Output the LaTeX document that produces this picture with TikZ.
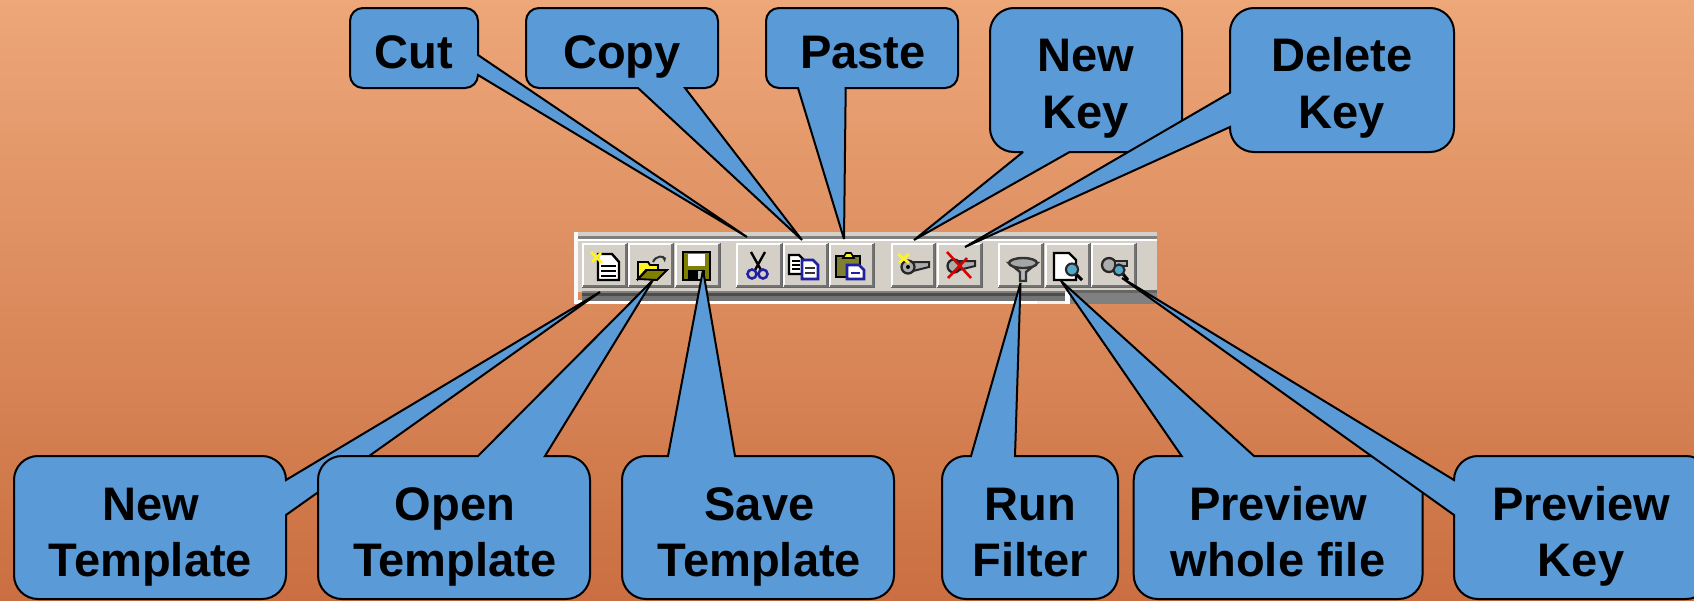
\documentclass[tikz,border=0pt]{standalone}
\usepackage{fontspec}
\usetikzlibrary{arrows.meta}
\setmainfont{Liberation Sans}
\definecolor{calloutblue}{HTML}{5A9AD6}
\definecolor{bgtop}{HTML}{EDA779}
\definecolor{bgbot}{HTML}{CA6F41}
\definecolor{face}{HTML}{D4D0C8}
\definecolor{olive}{HTML}{808000}
\definecolor{navyblue}{HTML}{2020A0}
\tikzset{
  calloutbox/.style={fill=calloutblue,draw=black,line width=1.5pt,line join=miter,miter limit=3},
  lab/.style={align=center,font=\bfseries\fontsize{35.3}{42.5}\selectfont,inner sep=0pt,anchor=base,text=black},
  docshape/.style={fill=white,draw=black,line width=1.8pt},
  bluedoc/.style={fill=white,draw=navyblue,line width=1.9pt},
  keyshape/.style={draw=black!85,line width=1.7pt,fill=gray!65},
  lens/.style={draw=black!85,line width=1.6pt,fill=cyan!60!gray}
}
\newcommand{\tbbtn}[2]{%
  \fill[face] (#1,243) rectangle (#2,287);
  \draw[white,line width=1.3pt] (#1+.8,287) -- (#1+.8,243.8) -- (#2-1,243.8);
  \draw[gray!90!black,line width=1.8pt] (#1+1,285.8) -- (#2-1,285.8) -- (#2-1,244);
  \draw[black!60,line width=.8pt] (#1,287.4) -- (#2+.4,287.4) -- (#2+.4,243);
}
% x0 y0 x1 y1 radius | top-edge, right-edge, bottom-edge, left-edge wedge fragments
\newcommand{\calloutshape}[9]{%
  \draw[calloutbox] (#1+#5,#2) #6 -- (#3-#5,#2) arc[start angle=-90,end angle=0,radius=#5]
    #7 -- (#3,#4-#5) arc[start angle=0,end angle=90,radius=#5]
    #8 -- (#1+#5,#4) arc[start angle=90,end angle=180,radius=#5]
    #9 -- (#1,#2+#5) arc[start angle=180,end angle=270,radius=#5] -- cycle;
}
\begin{document}
\begin{tikzpicture}[x=0.75pt,y=-0.75pt]
\useasboundingbox (0,0) rectangle (1694,600);
\clip (0,0) rectangle (1694,600);
\shade[top color=bgtop,bottom color=bgbot] (0,0) rectangle (1694,600);

% toolbar
\fill[face] (574,232) rectangle (1157,292);
\fill[white!90!face] (574,232) rectangle (578,304);
\fill[gray] (578,236) rectangle (1157,238.5);
\fill[white] (578,238.5) rectangle (1157,241);
\fill[white] (578,300) rectangle (1037,304);
\fill[white!70!face] (1037,300) rectangle (1065,304);
\fill[gray] (582,291) rectangle (1065,293);
\fill[black!70] (582,293) rectangle (1065,296);
\fill[black!55] (582,296) rectangle (1065,300.5);
\fill[white] (1065,292) rectangle (1070,304);
\fill[gray] (1070,290) rectangle (1157,304);
\fill[black!60] (1070,290) rectangle (1157,293);
\tbbtn{582}{627}\tbbtn{628}{673}\tbbtn{675}{720}
\tbbtn{736}{782}\tbbtn{783}{828}\tbbtn{829}{874}
\tbbtn{891}{935}\tbbtn{937}{982}
\tbbtn{998}{1043}\tbbtn{1045}{1090}\tbbtn{1091}{1136}

% new document icon
\draw[docshape] (598,254) -- (612,254) -- (619,262) -- (619,280) -- (598,280) -- cycle;
\draw[black,line width=1.7pt] (601,266) -- (616,266) (601,271) -- (616,271) (601,276) -- (616,276);
\draw[yellow!85!white,line width=2pt] (591,252) -- (602,263) (601,253) -- (592,262);
% open folder icon
\fill[yellow!85!white,draw=black,line width=1.4pt] (638,279) -- (638,262) -- (648,262) -- (650,265) -- (658,265) -- (658,270) -- (646,270) -- cycle;
\fill[olive,draw=black,line width=1.4pt] (638,279) -- (647,270) -- (667,270) -- (657,280) -- cycle;
\draw[black!80,line width=1.5pt,-{Latex[length=4pt]}] (653,262) .. controls (656,255) and (664,256) .. (665,263);
% floppy icon
\fill[olive,draw=black,line width=2pt] (683,252) rectangle (710,280);
\fill[white] (688,254) rectangle (705,266);
\fill[black] (688,270) rectangle (705,280);
\fill[gray!50] (698,271) rectangle (702,279);
% scissors icon
\draw[black,line width=1.8pt] (751,252) -- (761,270) (765,252) -- (755,270);
\draw[navyblue,line width=1.9pt] (752,274) circle[radius=4.5] (763,274) circle[radius=4.5];
% copy icon
\draw[docshape] (789,255) -- (799,255) -- (804,260) -- (804,274) -- (789,274) -- cycle;
\draw[black,line width=1.6pt] (792,261) -- (800,261) (792,265) -- (800,265) (792,269) -- (800,269);
\draw[bluedoc] (802,260) -- (813,260) -- (818,265) -- (818,279) -- (802,279) -- cycle;
\draw[black!80,line width=1.6pt] (805,268) -- (815,268) (805,273) -- (815,273);
% paste icon
\fill[olive!60!gray,draw=black,line width=1.8pt] (836,256) rectangle (860,277);
\fill[yellow!85!white,draw=black,line width=1.2pt] (843,258) -- (846,253) -- (851,253) -- (854,258) -- cycle;
\draw[bluedoc] (847,265) -- (859,265) -- (864,270) -- (864,279) -- (847,279) -- cycle;
\draw[navyblue,line width=1.6pt] (851,273) -- (860,273);
% new key icon
\fill[gray!65,draw=black!85,line width=1.5pt] (913,262) -- (929,262) -- (929,267) -- (913,271) -- cycle;
\draw[keyshape] (908,267) circle[radius=6.5];
\fill[black] (908,267) circle[radius=2];
\draw[yellow!85!white,line width=2pt] (898,254) -- (909,263) (909,254) -- (899,263);
% delete key icon
\fill[gray!65,draw=black!85,line width=1.5pt] (959,261) -- (975,261) -- (975,266) -- (959,270) -- cycle;
\draw[keyshape] (954,266) circle[radius=6.5];
\draw[red!85!black,line width=1.9pt] (947,252) -- (971,278) (948,278) -- (967,258);
% funnel icon
\fill[gray!55,draw=black!80,line width=1.8pt] (1009,263) -- (1020,272) -- (1020,281) -- (1026,281) -- (1026,272) -- (1037,263) -- cycle;
\draw[fill=gray!70,draw=black!80,line width=1.8pt] (1023,263) ellipse[x radius=14,y radius=5];
% preview file icon
\draw[docshape] (1054,253) -- (1069,253) -- (1076,260) -- (1076,280) -- (1054,280) -- cycle;
\draw[black,line width=2.2pt] (1076,274) -- (1082,280);
\draw[lens] (1072,269.5) circle[radius=6];
% preview key icon
\draw[keyshape] (1109,265) circle[radius=7];
\fill[gray!65,draw=black!85,line width=1.5pt] (1115,261) -- (1127,261) -- (1127,266) -- (1115,266) -- cycle;
\draw[black,line width=2.2pt] (1123,274) -- (1128,280);
\draw[lens] (1119,270) circle[radius=5.5];

% callouts
\coordinate (tipcut) at (747,237);
\coordinate (tipcopy) at (802,240);
\coordinate (tippaste) at (844,239);
\coordinate (tipnewkey) at (914,240);
\coordinate (tipdelkey) at (965,247);
\coordinate (tipnewt) at (600,292);
\coordinate (tipopent) at (653,280);
\coordinate (tipsavet) at (703,270);
\coordinate (tiprun) at (1020.5,283);
\coordinate (tipwhole) at (1061,281);
\coordinate (tipkey) at (1122,278);

\calloutshape{350}{8}{478}{88}{13}{}{-- (478,55) -- (tipcut) -- (478,75)}{}{}
\node[lab] (cut) at (414,68) {Cut};

\calloutshape{526}{8}{718}{88}{13}{}{}{-- (685,88) -- (tipcopy) -- (638,88)}{}
\node[lab] (copy) at (622,68) {Copy};

\calloutshape{766}{8}{958}{88}{13}{}{}{-- (845.7,88) -- (tippaste) -- (798,88)}{}
\node[lab] (paste) at (863,68) {Paste};

\calloutshape{990}{8}{1182}{152}{24}{}{}{-- (1069.6,152) -- (tipnewkey) -- (1023,152)}{}
\node[lab] (newkey) at (1086,128) {New\\Key};

\calloutshape{1230}{8}{1454}{152}{24}{}{}{}{-- (1230,127) -- (tipdelkey) -- (1230,92.7)}
\node[lab] (delkey) at (1342,128) {Delete\\Key};

\calloutshape{14}{456}{286}{599}{24}{}{-- (286,480) -- (tipnewt) -- (286,515)}{}{}
\node[lab] (newt) at (150.5,576.7) {New\\Template};

\calloutshape{318}{456}{590}{599}{24}{-- (478,456) -- (tipopent) -- (545,456)}{}{}{}
\node[lab] (opent) at (455,576.7) {Open\\Template};

\calloutshape{622}{456}{894}{599}{24}{-- (668,456) -- (tipsavet) -- (735,456)}{}{}{}
\node[lab] (savet) at (759.5,576.7) {Save\\Template};

\calloutshape{942}{456}{1118}{599}{24}{-- (971,456) -- (tiprun) -- (1015,456)}{}{}{}
\node[lab] (run) at (1030,576.7) {Run\\Filter};

\calloutshape{1133.7}{456}{1422.5}{599}{24}{-- (1181.6,456) -- (tipwhole) -- (1254,456)}{}{}{}
\node[lab] (whole) at (1278,576.7) {Preview\\whole file};

\calloutshape{1454}{456}{1710}{599}{24}{}{}{}{-- (1454,515) -- (tipkey) -- (1454,480)}
\node[lab] (pkey) at (1581,576.7) {Preview\\Key};
\end{tikzpicture}
\end{document}
